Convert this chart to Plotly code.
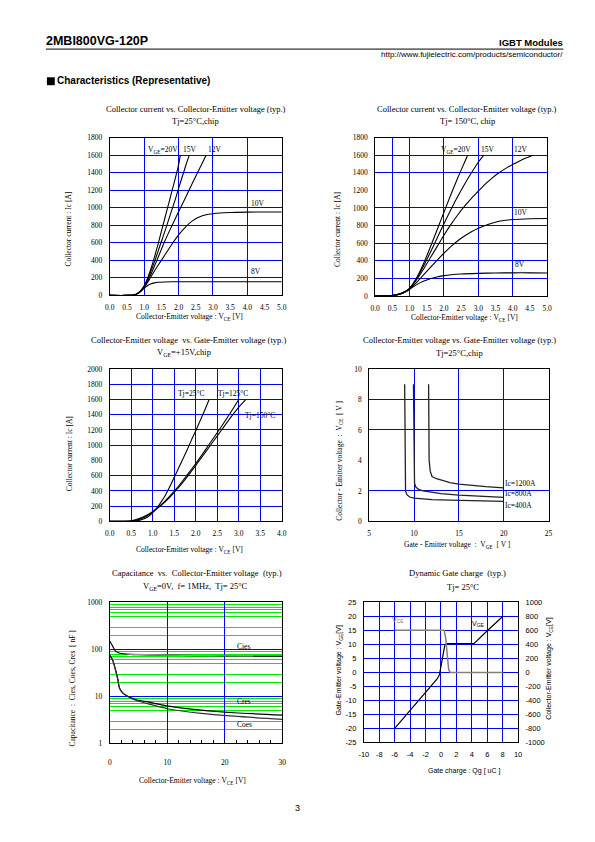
import numpy as np
import plotly.graph_objects as go

# page is 595x842; the html body has an 8px margin, so the figure is drawn
# at (8,8) with a size that fits inside the window
OX, OY = 8, 8
FW, FH = 595 - 2 * OX, 842 - 2 * OY

# ---------------- DATA ----------------
# Chart 1: Ic vs VCE, Tj=25°C
c1_x20 = [0.0, 0.5, 0.7, 0.8, 0.9, 1.0, 1.1, 1.2, 1.3, 1.4, 1.5, 1.6, 1.7, 1.8, 1.9, 2.0, 2.05]
c1_y20 = [0, 0, 5, 20, 55, 110, 200, 310, 440, 580, 730, 880, 1030, 1180, 1330, 1490, 1600]
c1_x15 = [0.0, 0.5, 0.7, 0.8, 0.9, 1.0, 1.1, 1.2, 1.3, 1.4, 1.5, 1.6, 1.7, 1.8, 1.9, 2.0, 2.1, 2.2, 2.31]
c1_y15 = [0, 0, 5, 20, 52, 105, 185, 280, 385, 500, 615, 730, 850, 970, 1090, 1220, 1345, 1470, 1600]
c1_x12 = [0.0, 0.5, 0.7, 0.8, 0.9, 1.0, 1.1, 1.2, 1.3, 1.4, 1.5, 1.6, 1.8, 2.0, 2.2, 2.4, 2.6, 2.8]
c1_y12 = [0, 0, 5, 20, 50, 100, 165, 245, 335, 430, 525, 620, 790, 955, 1115, 1280, 1440, 1600]
c1_x10 = [0.0, 0.5, 0.7, 0.8, 0.9, 1.0, 1.1, 1.2, 1.4, 1.6, 1.8, 2.0, 2.2, 2.4, 2.6, 2.8, 3.0, 3.2, 3.5, 4.0, 4.5, 5.0]
c1_y10 = [0, 0, 5, 18, 45, 90, 150, 215, 340, 460, 580, 690, 780, 850, 895, 920, 932, 940, 946, 950, 952, 952]
c1_x8 = [0.0, 0.5, 0.7, 0.8, 0.9, 1.0, 1.1, 1.2, 1.3, 1.4, 1.6, 1.8, 2.0, 3.0, 4.0, 5.0]
c1_y8 = [0, 0, 5, 20, 48, 82, 112, 132, 143, 149, 153, 155, 155, 155, 155, 155]

# Chart 2: Ic vs VCE, Tj=150°C
c2_x20 = [0.0, 0.5, 0.7, 0.9, 1.0, 1.2, 1.4, 1.6, 1.8, 2.0, 2.2, 2.4, 2.6, 2.69]
c2_y20 = [0, 5, 20, 55, 85, 200, 360, 550, 750, 950, 1150, 1340, 1520, 1600]
c2_x15 = [0.0, 0.5, 0.7, 0.9, 1.0, 1.2, 1.4, 1.6, 1.8, 2.0, 2.2, 2.4, 2.6, 2.8, 3.0, 3.16]
c2_y15 = [0, 5, 20, 55, 85, 195, 335, 490, 655, 820, 980, 1130, 1270, 1400, 1520, 1600]
c2_x12 = [0.0, 0.5, 0.7, 0.9, 1.0, 1.2, 1.4, 1.6, 1.8, 2.0, 2.2, 2.4, 2.6, 2.8, 3.0, 3.2, 3.4, 3.6, 3.8, 4.0, 4.2, 4.4, 4.6]
c2_y12 = [0, 5, 20, 52, 80, 180, 300, 430, 560, 690, 810, 920, 1020, 1110, 1190, 1270, 1340, 1400, 1450, 1495, 1535, 1570, 1600]
c2_x10 = [0.0, 0.5, 0.7, 0.9, 1.0, 1.2, 1.4, 1.6, 1.8, 2.0, 2.2, 2.5, 2.8, 3.0, 3.3, 3.6, 4.0, 4.5, 5.0]
c2_y10 = [0, 5, 18, 50, 75, 150, 235, 320, 405, 485, 560, 655, 730, 770, 815, 848, 868, 878, 880]
c2_x8 = [0.0, 0.5, 0.7, 0.9, 1.0, 1.2, 1.4, 1.6, 1.8, 2.0, 2.5, 3.0, 3.5, 4.0, 4.5, 5.0]
c2_y8 = [0, 5, 15, 50, 75, 125, 165, 195, 215, 230, 248, 256, 260, 262, 262, 260]

# Chart 3: Ic vs VCE at VGE=+15V
c3_x25 = [0.0, 0.5, 0.7, 0.9, 1.0, 1.1, 1.2, 1.3, 1.4, 1.5, 1.6, 1.7, 1.8, 1.9, 2.0, 2.1, 2.2, 2.31]
c3_y25 = [0, 2, 15, 65, 115, 180, 260, 350, 460, 580, 700, 820, 940, 1070, 1190, 1320, 1450, 1600]
c3_x125 = [0.0, 0.5, 0.7, 0.9, 1.0, 1.2, 1.4, 1.6, 1.8, 2.0, 2.2, 2.4, 2.6, 2.8, 3.0]
c3_y125 = [0, 5, 30, 85, 125, 220, 335, 465, 610, 760, 920, 1085, 1250, 1420, 1600]
c3_x150 = [0.0, 0.5, 0.7, 0.9, 1.0, 1.2, 1.4, 1.6, 1.8, 2.0, 2.2, 2.4, 2.6, 2.8, 3.0, 3.16]
c3_y150 = [0, 8, 40, 95, 130, 215, 320, 445, 585, 735, 890, 1045, 1200, 1355, 1500, 1600]

# Chart 4: VCE vs VGE, Tj=25°C
c4_x400 = [8.95, 8.97, 9.0, 9.05, 9.2, 9.5, 10.0, 11.0, 12.0, 14.0, 16.0, 18.0, 20.0]
c4_y400 = [9.0, 6.0, 4.0, 2.0, 1.75, 1.6, 1.53, 1.47, 1.43, 1.39, 1.36, 1.34, 1.32]
c4_x800 = [9.93, 9.95, 9.98, 10.05, 10.2, 10.5, 11.0, 12.0, 13.0, 15.0, 17.0, 20.0]
c4_y800 = [9.0, 6.0, 4.0, 2.5, 2.25, 2.1, 2.0, 1.9, 1.82, 1.72, 1.65, 1.58]
c4_x1200 = [11.62, 11.64, 11.68, 11.8, 12.0, 12.5, 13.0, 14.0, 15.0, 16.0, 18.0, 20.0]
c4_y1200 = [9.0, 6.0, 4.0, 3.3, 2.95, 2.8, 2.7, 2.55, 2.45, 2.38, 2.28, 2.2]

# Chart 5: Capacitance vs VCE
c5_x_cies = [0.0, 0.5, 1.0, 1.5, 2.0, 3.0, 5.0, 10.0, 15.0, 20.0, 25.0, 30.0]
c5_y_cies = [150, 118, 92, 85, 82, 80, 77.5, 75.5, 74, 73, 72.3, 72]
c5_x_cies2 = [3.0, 6.0, 10.0, 15.0, 20.0, 25.0]
c5_y_cies2 = [80, 78, 76, 74.5, 73.5, 73]
c5_x_cres = [0.0, 0.5, 1.0, 1.4, 1.7, 2.3, 3.4, 4.5, 7.4, 10.25, 15.9, 21.6, 30.0]
c5_y_cres = [76, 60, 37, 23, 15, 11.8, 9.7, 8.6, 7.3, 6.2, 5.1, 4.5, 4.0]
c5_x_coes = [0.0, 0.5, 1.0, 1.4, 1.7, 2.3, 3.4, 4.5, 7.4, 10.25, 15.9, 21.6, 30.0]
c5_y_coes = [74, 58, 36, 22.5, 14.8, 11.6, 9.5, 8.3, 6.6, 5.4, 4.35, 3.8, 3.26]

# Chart 6: Dynamic gate charge
c6_qg_vge = [-6.0, -4.0, -2.0, -0.5, -0.2, 0.1, 0.5, 0.7, 2.0, 4.3, 6.0, 8.0]
c6_vge = [-20.0, -13.6, -7.2, -2.3, -0.8, 3.7, 9.8, 10.3, 10.3, 10.4, 14.9, 20.0]
c6_qg_vce = [-6.0, 0.4, 0.6, 0.8, 1.0, 1.2, 8.0]
c6_vce = [605, 605, 500, 250, 40, 0, 0]

# tick labels / grid positions
c12_xticks = [0.0, 0.5, 1.0, 1.5, 2.0, 2.5, 3.0, 3.5, 4.0, 4.5, 5.0]
c12_yticks = [0, 200, 400, 600, 800, 1000, 1200, 1400, 1600, 1800]
c1_xgrid = [1, 2, 3, 4]
c1_ygrid = [200, 400, 600, 800, 1000, 1200, 1400, 1600]
c2_xgrid = [0.5, 1, 2, 3, 4]
c2_ygrid = [200, 400, 600, 800, 1000, 1400, 1600]
c3_xticks = [0.0, 0.5, 1.0, 1.5, 2.0, 2.5, 3.0, 3.5, 4.0]
c3_yticks = [0, 200, 400, 600, 800, 1000, 1200, 1400, 1600, 1800, 2000]
c3_xgrid = [0.5, 1.0, 1.5, 2.0, 2.5, 3.0, 3.5]
c3_ygrid = [200, 400, 600, 1000, 1200, 1400, 1600, 1800]
c4_xticks = [5, 10, 15, 20, 25]
c4_yticks = [0, 2, 4, 6, 8, 10]
c4_xgrid = [10, 15, 20]
c4_ygrid = [2, 6, 8]
c5_xticks = [0, 10, 20, 30]
c5_yticks = [1, 10, 100, 1000]
c5_xgrid = [10, 20]
c5_ygrid = [10, 100]
c5_ygrid_minor = [2, 3, 5, 6, 7, 8, 9, 20, 30, 50, 60, 70, 80, 90, 200, 300, 500, 600, 700, 800, 900]
c6_xticks = [-10, -8, -6, -4, -2, 0, 2, 4, 6, 8, 10]
c6_yticks = [-25, -20, -15, -10, -5, 0, 5, 10, 15, 20, 25]
c6_y2ticks = [-1000, -800, -600, -400, -200, 0, 200, 400, 600, 800, 1000]
c6_xgrid = [-8, -6, -4, -2, 0, 2, 4, 6, 8]
c6_ygrid = [-20, -15, -10, -5, 0, 5, 10, 15, 20]

# ---------------- STYLE ----------------
BLUE = "#0000FF"
GREEN = "#00EE00"
SERIF = "Liberation Serif"
SANS = "Liberation Sans"
TICKF = dict(family=SERIF, size=7.5, color="black")
TICKF6 = dict(family=SANS, size=7.5, color="black")

def aid(l, n):
    return l if n == 1 else f"{l}{n}"

def akey(l, n):
    return f"{l}axis" if n == 1 else f"{l}axis{n}"

def xdom(a, b):
    return [(a - OX) / FW, (b - OX) / FW]

def ydom(top, bot):
    return [1 - (bot - OY) / FH, 1 - (top - OY) / FH]

panels = {
    1: dict(x=(106.5, 281.5), y=(135, 294.5)),
    2: dict(x=(376.5, 551.5), y=(135, 295)),
    3: dict(x=(106.5, 281.5), y=(369, 523)),
    4: dict(x=(370.5, 553), y=(369, 523)),
    5: dict(x=(106.5, 282), y=(605, 747.5)),
    6: dict(x=(365, 522), y=(605, 746.5)),
}

fig = go.Figure()
layout = {}

def main_axes(i, xr, yr, xt, yt, xtext, ytext, font, ytype="linear", xstand=2, ystand=2):
    p = panels[i]
    common = dict(showgrid=False, zeroline=False, showline=True, mirror=True,
                  linecolor="black", linewidth=1, ticks="outside", ticklen=3,
                  tickcolor="rgba(0,0,0,0)", tickfont=font, tickmode="array")
    layout[akey("x", i)] = dict(domain=xdom(*p["x"]), anchor=aid("y", i), range=xr,
                                tickvals=xt, ticktext=xtext, ticklabelstandoff=xstand, **common)
    layout[akey("y", i)] = dict(domain=ydom(*p["y"]), anchor=aid("x", i), range=yr, type=ytype,
                                tickvals=yt, ticktext=ytext, ticklabelstandoff=ystand, **common)

def grid_axes(i, g, xr, yr, xg, yg, ytype="linear", color=BLUE, yminor=None):
    p = panels[i]
    common = dict(showgrid=True, gridcolor=color, gridwidth=1, zeroline=False, showline=False,
                  showticklabels=False, ticks="", tickmode="array")
    layout[akey("x", g)] = dict(domain=xdom(*p["x"]), anchor=aid("y", g), overlaying=aid("x", i),
                                range=xr, tickvals=xg, **common)
    layout[akey("y", g)] = dict(domain=ydom(*p["y"]), anchor=aid("x", g), overlaying=aid("y", i),
                                range=yr, type=ytype, tickvals=yg, **common)
    if yminor is not None:
        layout[akey("y", g)]["minor"] = dict(tickmode="array", tickvals=yminor, showgrid=True,
                                             gridcolor=GREEN, gridwidth=1.2, ticks="")
    fig.add_trace(go.Scatter(x=[], y=[], xaxis=aid("x", g), yaxis=aid("y", g),
                             showlegend=False, hoverinfo="skip"))

fmt1 = lambda v: [f"{t:.1f}" for t in v]
fmti = lambda v: [str(t) for t in v]

main_axes(1, [0, 5], [0, 1800], c12_xticks, c12_yticks, fmt1(c12_xticks), fmti(c12_yticks), TICKF)
main_axes(2, [0, 5], [0, 1800], c12_xticks, c12_yticks, fmt1(c12_xticks), fmti(c12_yticks), TICKF)
main_axes(3, [0, 4], [0, 2000], c3_xticks, c3_yticks, fmt1(c3_xticks), fmti(c3_yticks), TICKF)
main_axes(4, [5, 25], [0, 10], c4_xticks, c4_yticks, fmti(c4_xticks), fmti(c4_yticks), TICKF)
main_axes(5, [0, 30], [0, 3], c5_xticks, c5_yticks, fmti(c5_xticks), fmti(c5_yticks), TICKF,
          ytype="log", xstand=9)
main_axes(6, [-10, 10], [-25, 25], c6_xticks, c6_yticks, fmti(c6_xticks), fmti(c6_yticks), TICKF6)

grid_axes(1, 7, [0, 5], [0, 1800], c1_xgrid, c1_ygrid)
grid_axes(2, 8, [0, 5], [0, 1800], c2_xgrid, c2_ygrid)
grid_axes(3, 9, [0, 4], [0, 2000], c3_xgrid, c3_ygrid)
grid_axes(4, 10, [5, 25], [0, 10], c4_xgrid, c4_ygrid)
grid_axes(5, 11, [0, 30], [0, 3], c5_xgrid, c5_ygrid, ytype="log", yminor=c5_ygrid_minor)
grid_axes(6, 12, [-10, 10], [-25, 25], c6_xgrid, c6_ygrid)

# right axis for dynamic gate charge
layout["yaxis13"] = dict(domain=ydom(*panels[6]["y"]), anchor="x6", overlaying="y6", side="right",
                         range=[-1000, 1000], tickmode="array", tickvals=c6_y2ticks,
                         ticktext=fmti(c6_y2ticks), showgrid=False, zeroline=False, showline=False,
                         ticks="outside", ticklen=3, tickcolor="rgba(0,0,0,0)", tickfont=TICKF6,
                         ticklabelstandoff=2)

# chart 5 minor ticks on x axis
layout["xaxis5"]["minor"] = dict(ticks="inside", ticklen=3, tickcolor="black", dtick=2, showgrid=False)

def curve(i, x, y, color="black", width=1.1, shape="spline", yaxis=None):
    fig.add_trace(go.Scatter(x=x, y=y, mode="lines",
                             line=dict(color=color, width=width, shape=shape,
                                       smoothing=0.8 if shape == "spline" else None),
                             xaxis=aid("x", i), yaxis=yaxis or aid("y", i),
                             showlegend=False, hoverinfo="skip"))

for x, y in [(c1_x20, c1_y20), (c1_x15, c1_y15), (c1_x12, c1_y12), (c1_x10, c1_y10), (c1_x8, c1_y8)]:
    curve(1, x, y)
for x, y in [(c2_x20, c2_y20), (c2_x15, c2_y15), (c2_x12, c2_y12), (c2_x10, c2_y10), (c2_x8, c2_y8)]:
    curve(2, x, y)
for x, y in [(c3_x25, c3_y25), (c3_x125, c3_y125), (c3_x150, c3_y150)]:
    curve(3, x, y)
for x, y in [(c4_x400, c4_y400), (c4_x800, c4_y800), (c4_x1200, c4_y1200)]:
    curve(4, x, y, color="#222222", width=1.3, shape="linear")
curve(5, c5_x_cies, c5_y_cies, width=1.2)
curve(5, c5_x_cies2, c5_y_cies2, color="#999999", width=1.2)
curve(5, c5_x_cres, c5_y_cres, width=1.2)
curve(5, c5_x_coes, c5_y_coes, color="#333333", width=1.2)
curve(6, c6_qg_vce, c6_vce, color="#808080", width=1.5, shape="linear", yaxis="y13")
curve(6, c6_qg_vge, c6_vge, color="black", width=1.2, shape="linear")

# ---------------- TEXT ----------------
ann = []

def ptext(text, x, y, size, family=SERIF, xanchor="center", yanchor="middle", angle=0, color="black"):
    ann.append(dict(text=text, x=(x - OX) / FW, y=1 - (y - OY) / FH, xref="paper", yref="paper",
                    xanchor=xanchor, yanchor=yanchor, showarrow=False, textangle=angle,
                    borderpad=0, borderwidth=0,
                    font=dict(family=family, size=size, color=color)))

def dtext(i, text, x, y, size=7.5, family=SERIF, xanchor="center", color="black"):
    ann.append(dict(text=text, x=x, y=y, xref=aid("x", i), yref=aid("y", i),
                    xanchor=xanchor, yanchor="middle", showarrow=False,
                    borderpad=0, borderwidth=0,
                    font=dict(family=family, size=size, color=color)))

# header
ptext("<b>2MBI800VG-120P</b>", 41.5, 37.5, 12.5, SANS, xanchor="left")
ptext("<b>IGBT Modules</b>", 568, 39, 9.5, SANS, xanchor="right")
ptext("http://www.fujielectric.com/products/semiconductor/", 568, 51, 8, SANS, xanchor="right")
ptext("<b>Characteristics (Representative)</b>", 52.5, 77.5, 10, SANS, xanchor="left")
ptext("3", 297.5, 813, 9, SANS)

# chart titles
TS = 8.5
ptext("Collector current vs. Collector-Emitter voltage (typ.)", 194, 106.5, TS)
ptext("Tj=25°C,chip", 194, 118.5, TS)
ptext("Collector current vs. Collector-Emitter voltage (typ.)", 470, 106.5, TS)
ptext("Tj= 150°C, chip", 470, 118.5, TS)
ptext("Collector-Emitter voltage  vs. Gate-Emitter voltage (typ.)", 187, 340, TS)
ptext("V<sub>GE</sub>=+15V,chip", 182, 352.5, TS)
ptext("Collector-Emitter voltage vs. Gate-Emitter voltage (typ.)", 462.5, 340, TS)
ptext("Tj=25°C,chip", 462, 352.5, TS)
ptext("Capacitance  vs.  Collector-Emitter voltage  (typ.)", 195.5, 575.5, TS)
ptext("V<sub>GE</sub>=0V,  f= 1MHz,  Tj= 25°C", 194, 589, TS)
ptext("Dynamic Gate charge  (typ.)", 460, 575.5, TS)
ptext("Tj= 25°C", 466, 589, TS)

# axis titles
AS = 7.5
ptext("Collector-Emitter voltage : V<sub>CE</sub> [V]", 188, 316.5, AS)
ptext("Collector current : Ic [A]", 65, 228, AS, angle=-90)
ptext("Collector-Emitter voltage : V<sub>CE</sub> [V]", 467, 317.5, AS)
ptext("Collector current : Ic [A]", 338, 228, AS, angle=-90)
ptext("Collector-Emitter voltage : V<sub>CE</sub> [V]", 188, 551.5, AS)
ptext("Collector current : Ic [A]", 65, 455, AS, angle=-90)
ptext("Gate - Emitter voltage  :  V<sub>GE</sub>  [ V ]", 460, 546.5, AS)
ptext("Collector - Emitter voltage  :  V<sub>CE</sub>  [ V ]", 340, 461.5, AS, angle=-90)
ptext("Collector-Emitter voltage : V<sub>CE</sub> [V]", 191, 785, AS)
ptext("Capacitance  :  Cies, Coes, Cres  [ nF ]", 69, 692, AS, angle=-90)
ptext("Gate charge : Qg [ uC ]", 467, 775.5, 7, SANS)
ptext("Gate-Emitter voltage : V<sub>GE</sub>[V]", 339.5, 674, 7, SANS, angle=-90)
ptext("Collector-Emitter voltage : V<sub>CE</sub>[V]", 553.5, 672, 7, SANS, angle=-90)

# in-chart labels
dtext(1, "V<sub>GE</sub>=20V", 1.56, 1660)
dtext(1, "15V", 2.33, 1660)
dtext(1, "12V", 3.06, 1660)
dtext(1, "10V", 4.31, 1047)
dtext(1, "8V", 4.24, 275)
dtext(2, "V<sub>GE</sub>=20V", 2.35, 1661)
dtext(2, "15V", 3.27, 1661)
dtext(2, "12V", 4.24, 1661)
dtext(2, "10V", 4.25, 945)
dtext(2, "8V", 4.22, 356)
dtext(3, "Tj=25°C", 1.88, 1680)
dtext(3, "Tj=125°C", 2.87, 1680)
dtext(3, "Tj=150°C", 3.5, 1394)
dtext(4, "Ic=1200A", 20.1, 2.47, xanchor="left")
dtext(4, "Ic=800A", 20.1, 1.8, xanchor="left")
dtext(4, "Ic=400A", 20.1, 1.06, xanchor="left")
dtext(5, "Cies", 23.3, np.log10(113))
dtext(5, "Cres", 23.3, np.log10(7.9))
dtext(5, "Coes", 23.4, np.log10(2.47))
dtext(6, "V<sub>CE</sub>", -5.6, 18.6, size=7, family=SANS, color="#808080")
dtext(6, "V<sub>GE</sub>", 4.8, 17.3, size=7, family=SANS)

shapes = [
    dict(type="line", xref="paper", yref="paper", x0=(41.5 - OX) / FW, x1=(568 - OX) / FW,
         y0=1 - (45.5 - OY) / FH, y1=1 - (45.5 - OY) / FH, line=dict(color="black", width=1)),
    dict(type="rect", xref="paper", yref="paper", x0=(42.5 - OX) / FW, x1=(50.5 - OX) / FW,
         y0=1 - (82 - OY) / FH, y1=1 - (74 - OY) / FH, fillcolor="black", line=dict(width=0)),
]

fig.update_layout(width=FW, height=FH, autosize=False, margin=dict(l=0, r=0, t=0, b=0),
                  paper_bgcolor="white", plot_bgcolor="white", showlegend=False,
                  annotations=ann, shapes=shapes, **layout)

fig.write_html("out.html")
